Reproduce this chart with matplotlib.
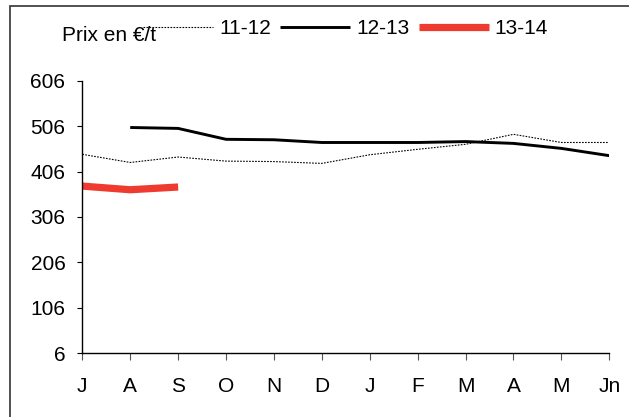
import matplotlib
matplotlib.use("Agg")
import matplotlib.pyplot as plt
from matplotlib.patches import Rectangle

plt.rcParams['font.family'] = ['Liberation Sans', 'DejaVu Sans']

# mois de la campagne (juillet -> juin)
mois = ["J", "A", "S", "O", "N", "D", "J", "F", "M", "A", "M", "Jn"]
yticks = [6, 106, 206, 306, 406, 506, 606]

# prix en €/t
prix_11_12 = [444, 426, 438, 429, 428, 424, 443, 455, 466, 488, 470, 470]
prix_12_13 = [None, 503, 501, 477, 476, 470, 470, 470, 472, 468, 457, 441]
prix_13_14 = [374, 366, 372]

W, H = 629, 417
fs = 15
fig = plt.figure(figsize=(W / 100, H / 100), dpi=100)
ax = fig.add_axes([82.3 / W, 1 - 353.3 / H, (609.3 - 82.3) / W, (353.3 - 80.7) / H])

x = list(range(len(mois)))
x12 = [i for i, v in zip(x, prix_12_13) if v is not None]
y12 = [v for v in prix_12_13 if v is not None]

l1, = ax.plot(x, prix_11_12, color='black', lw=0.8, linestyle=(0, (1.5, 1.2)))
l2, = ax.plot(x12, y12, color='black', lw=2.1, solid_capstyle='butt')
l3, = ax.plot(x[:len(prix_13_14)], prix_13_14, color='#EF3A30', lw=5.2, solid_capstyle='butt')

ax.set_xlim(0, len(mois) - 1)
ax.set_ylim(6, 606)
ax.set_xticks(x)
ax.set_xticklabels(mois)
ax.set_yticks(yticks)
ax.tick_params(axis='y', length=3.6, width=0.8, pad=8.5, labelsize=fs)
ax.tick_params(axis='x', length=4.8, width=0.8, pad=12.5, labelsize=fs, color='#555555')
for s in ['top', 'right']:
    ax.spines[s].set_visible(False)
for s in ['left', 'bottom']:
    ax.spines[s].set_linewidth(1.0)

# cadre du graphique
fig.patches.append(Rectangle((10 / W, -0.1), 1.2, 1.1 - 6 / H, transform=fig.transFigure,
                             fill=False, edgecolor='#333333', lw=1.2))

fig.text(62 / W, 1 - 35.5 / H, "Prix en €/t", fontsize=fs, va='center', ha='left')
fig.legend([l1, l2, l3], ["11-12", "12-13", "13-14"], ncol=3, frameon=False,
           loc='center left', bbox_to_anchor=(143 / W, 1 - 29 / H),
           borderpad=0, borderaxespad=0, handlelength=3.35, handletextpad=0.3,
           columnspacing=0.45, fontsize=fs)

fig.savefig("out.png", dpi=100)
